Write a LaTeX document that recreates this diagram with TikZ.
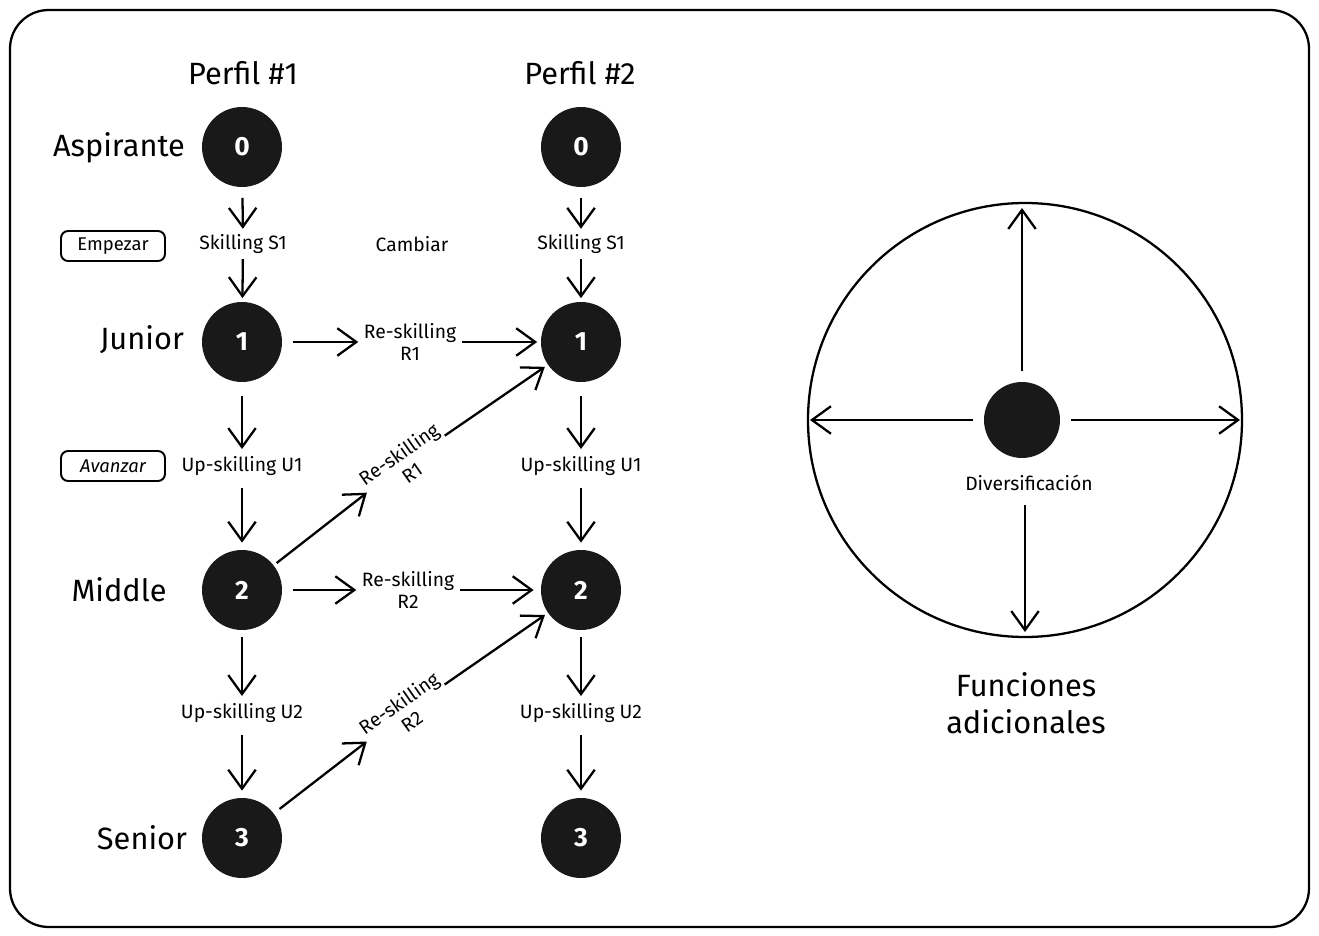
\documentclass[tikz,border=0pt]{standalone}
\usepackage{fontspec}
\setmainfont{Fira Sans}
\usetikzlibrary{arrows.meta}
\begin{document}
\begin{tikzpicture}[x=0.02cm,y=-0.02cm,
  lvl/.style={circle,fill=black!90,minimum size=1.6cm,inner sep=0pt,text=white,font=\fontsize{15}{18}\selectfont\bfseries},
  big/.style={font=\fontsize{17.5}{21}\selectfont},
  lab/.style={font=\fontsize{11}{13}\selectfont,align=center,inner sep=3pt},
  tag/.style={draw,rounded corners=4pt,line width=1.1pt,font=\fontsize{10.5}{12}\selectfont,minimum width=2.08cm,minimum height=0.6cm,inner sep=2pt},
  arr/.style={line width=1.3pt,-{Straight Barb[length=3.8mm,width=5.5mm,line width=1.3pt]}},
  stroke/.style={line width=1.3pt}]
\useasboundingbox (0,0) rectangle (1319,936);
\draw[stroke,rounded corners=22pt] (10,10) rectangle (1309,927);

% headers
\node[big] (h1) at (243,73) {Perfil \#1};
\node[big] (h2) at (580,73) {Perfil \#2};
\node[big] (ta) at (119,148) {Aspirante};
\node[big] (tj) at (142,340) {Junior};
\node[big] (tm) at (119,590) {Middle};
\node[big] (ts) at (142,838) {Senior};

% level nodes
\node[lvl] (a0) at (242,147) {0};
\node[lvl] (a1) at (242,342) {1};
\node[lvl] (a2) at (242,590) {2};
\node[lvl] (a3) at (242,838) {3};
\node[lvl] (b0) at (581,147) {0};
\node[lvl] (b1) at (581,342) {1};
\node[lvl] (b2) at (581,590) {2};
\node[lvl] (b3) at (581,838) {3};

% tags
\node[tag] (emp) at (113,246) {Empezar};
\node[tag] (ava) at (113,466) {\itshape Avanzar};

% labels
\node[lab] (as1) at (243,244) {Skilling S1};
\node[lab] (bs1) at (581,244) {Skilling S1};
\node[lab] (cam) at (412,244) {Cambiar};
\node[lab] (au1) at (242,466) {Up-skilling U1};
\node[lab] (bu1) at (581,466) {Up-skilling U1};
\node[lab] (au2) at (242,713) {Up-skilling U2};
\node[lab] (bu2) at (581,713) {Up-skilling U2};
\node[lab] (r1) at (410,342) {Re-skilling\\R1};
\node[lab] (r2) at (408,590) {Re-skilling\\R2};
\node[lab,rotate=35,inner sep=1pt] (dr1) at (405,463) {Re-skilling\\R1};
\node[lab,rotate=35,inner sep=1pt] (dr2) at (405,712) {Re-skilling\\R2};

% vertical arrows
\foreach \c in {a,b}{
  \draw[arr,shorten <=6pt] (\c0) -- (\c s1);
  \draw[arr,shorten >=2pt] (\c s1) -- (\c1);
  \draw[arr,shorten <=8pt,shorten >=1pt] (\c1) -- (\c u1);
  \draw[arr,shorten <=4pt,shorten >=4pt] (\c u1) -- (\c2);
  \draw[arr,shorten <=4pt,shorten >=1pt] (\c2) -- (\c u2);
  \draw[arr,shorten <=4pt,shorten >=4pt] (\c u2) -- (\c3);
}

% horizontal
\draw[arr,shorten <=6pt] (a1) -- (r1);
\draw[arr,shorten >=2pt] (r1) -- (b1);
\draw[arr,shorten <=6pt] (a2) -- (r2);
\draw[arr,shorten >=4pt] (r2) -- (b2);
% diagonal
\draw[arr,shorten <=2pt] (a2) -- (dr1);
\draw[arr,shorten >=2pt] (dr1) -- (b1);
\draw[arr,shorten <=4pt] (a3) -- (dr2);
\draw[arr,shorten >=2pt] (dr2) -- (b2);

% right: functions
\draw[stroke] (1025,420) circle (217);
\node[circle,fill=black!90,minimum size=1.52cm,inner sep=0pt] (d) at (1022,420) {};
\node[lab] (dl) at (1029,483) {Diversificación};
\coordinate (up) at (1022,208);
\coordinate (lf) at (810,420);
\coordinate (rt) at (1240,420);
\coordinate (dn) at (1025,632);
\coordinate (dstart) at (1025,505);
\draw[arr,shorten <=6pt] (d) -- (up);
\draw[arr,shorten <=6pt] (d) -- (lf);
\draw[arr,shorten <=6pt] (d) -- (rt);
\draw[arr] (dstart) -- (dn);
\node[big,align=center] (fa) at (1026,703) {Funciones\\adicionales};
\end{tikzpicture}
\end{document}
